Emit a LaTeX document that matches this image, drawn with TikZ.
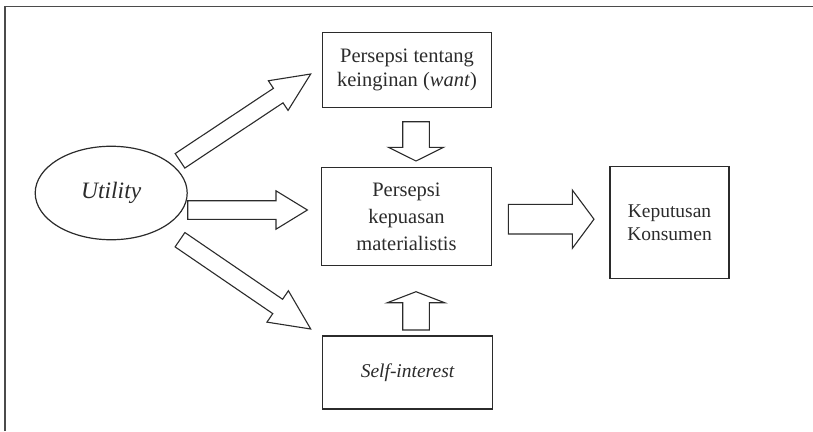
\documentclass[tikz,border=0pt]{standalone}
\usepackage{fontspec}
\setmainfont{Liberation Serif}
\usetikzlibrary{calc,shapes.geometric}

\definecolor{ink}{HTML}{2B2B2B}

\tikzset{
  box/.style={draw=ink, line width=1.2pt, rectangle, inner sep=0pt, align=center, text=ink},
  oval/.style={draw=ink, line width=1.2pt, ellipse, inner sep=0pt, text=ink},
  blockarr/.style={draw=ink, line width=1.1pt, fill=white, line join=miter},
  frameline/.style={draw=ink!85, line width=1.4pt},
}

% block arrow: #1 tail, #2 tip, #3 shaft half width, #4 head half width, #5 head length
\newcommand\blockarrow[5]{%
  \coordinate (hb) at ($(#2)!#5!(#1)$);
  \draw[blockarr]
    ($(#1)!#3!90:(#2)$) -- ($(hb)!#3!90:(#2)$) -- ($(hb)!#4!90:(#2)$) -- (#2)
    -- ($(hb)!#4!-90:(#2)$) -- ($(hb)!#3!-90:(#2)$) -- ($(#1)!#3!-90:(#2)$) -- cycle;
}

\begin{document}
\begin{tikzpicture}[x=1pt,y=-1pt]
\useasboundingbox (0,0) rectangle (813,431);

% outer frame (top and left sides only)
\draw[frameline] (5,431) -- (5,6.7) -- (813,6.7);

% nodes
\node[oval, minimum width=152pt, minimum height=93.5pt,
      font=\fontsize{23.5}{27}\selectfont\itshape] (util) at (111.2,193)
  {Utility};
\node[box, minimum width=169pt, minimum height=75.5pt,
      font=\fontsize{20.5}{24.3}\selectfont] (want) at (407,70)
  {Persepsi tentang\\keinginan (\textit{want})};
\node[box, minimum width=169.5pt, minimum height=98.5pt,
      font=\fontsize{20.5}{27}\selectfont] (puas) at (406.5,216.6)
  {Persepsi\\kepuasan\\materialistis};
\node[box, minimum width=169.5pt, minimum height=73pt,
      font=\fontsize{19.5}{24}\selectfont\itshape] (self) at (407.5,372.5)
  {Self-interest};
\node[box, minimum width=119pt, minimum height=112pt,
      font=\fontsize{19.5}{23.3}\selectfont] (kep) at (669.5,222.7)
  {Keputusan\\Konsumen};

% arrow end points
\coordinate (a1t) at (180,160.8);   \coordinate (a1h) at (310.7,74);
\coordinate (a2t) at (187.7,210);   \coordinate (a2h) at (307.4,210);
\coordinate (a3t) at (180,239.7);   \coordinate (a3h) at (310.7,329);
\coordinate (a4t) at (508.4,219.2); \coordinate (a4h) at (594,219.2);
\coordinate (a5t) at (416,121.7);   \coordinate (a5h) at (416,161);
\coordinate (a6t) at (416,330);     \coordinate (a6h) at (416,291.7);

% block arrows
\blockarrow{a1t}{a1h}{8.7pt}{17.8pt}{39pt}
\blockarrow{a2t}{a2h}{9.3pt}{19.2pt}{31.4pt}
\blockarrow{a3t}{a3h}{8.7pt}{19pt}{40pt}
\blockarrow{a4t}{a4h}{14.8pt}{29.2pt}{21.7pt}
\blockarrow{a5t}{a5h}{13.3pt}{27.5pt}{13.7pt}
\blockarrow{a6t}{a6h}{13.3pt}{28.6pt}{11pt}
\end{tikzpicture}
\end{document}
